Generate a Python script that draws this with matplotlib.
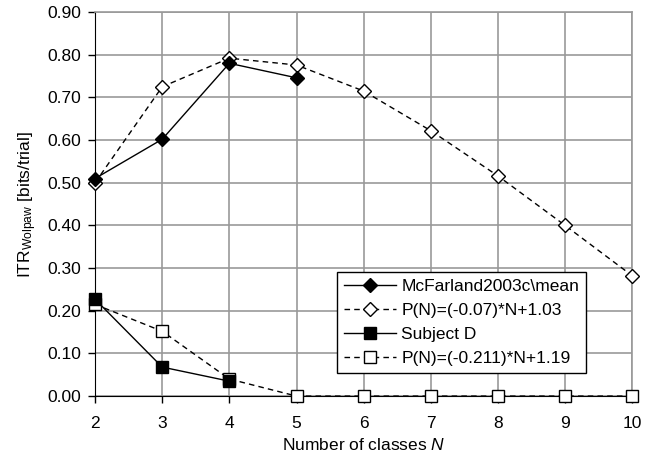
import matplotlib
matplotlib.use("Agg")
import matplotlib.pyplot as plt

plt.rcParams['font.family'] = ['Liberation Sans', 'DejaVu Sans']
plt.rcParams['mathtext.fontset'] = 'custom'
plt.rcParams['mathtext.rm'] = 'Liberation Sans'
plt.rcParams['mathtext.it'] = 'Liberation Sans:italic'

# data
n_mean = [2, 3, 4, 5]
itr_mean = [0.51, 0.602, 0.78, 0.746]
n_fit1 = [2, 3, 4, 5, 6, 7, 8, 9, 10]
itr_fit1 = [0.50, 0.725, 0.792, 0.776, 0.715, 0.622, 0.516, 0.400, 0.282]
n_subj = [2, 3, 4]
itr_subj = [0.227, 0.068, 0.035]
n_fit2 = [2, 3, 4, 5, 6, 7, 8, 9, 10]
itr_fit2 = [0.215, 0.152, 0.04, 0.0, 0.0, 0.0, 0.0, 0.0, 0.0]

labels = ['McFarland2003c\\mean', 'P(N)=(-0.07)*N+1.03',
          'Subject D', 'P(N)=(-0.211)*N+1.19']

fig = plt.figure(figsize=(6.6, 4.66), dpi=100)
ax = fig.add_axes([0.144, 0.150, 0.814, 0.824])

dash = (0, (4, 3))
ax.plot(n_mean, itr_mean, color='black', lw=1.0, marker='D', ms=7,
        mfc='black', mec='black', label=labels[0], zorder=4, clip_on=False)
ax.plot(n_fit1, itr_fit1, color='black', lw=1.0, ls=dash, marker='D', ms=7,
        mfc='white', mec='black', label=labels[1], zorder=3, clip_on=False)
ax.plot(n_subj, itr_subj, color='black', lw=1.0, marker='s', ms=8.5,
        mfc='black', mec='black', label=labels[2], zorder=4, clip_on=False)
ax.plot(n_fit2, itr_fit2, color='black', lw=1.0, ls=dash, marker='s', ms=8,
        mfc='white', mec='black', label=labels[3], zorder=3, clip_on=False)

ax.set_xlim(2, 10)
ax.set_ylim(0, 0.9)
ax.set_xticks(range(2, 11))
ax.set_yticks([i / 10 for i in range(10)])
ax.set_yticklabels([f'{i / 10:.2f}' for i in range(10)])
ax.tick_params(labelsize=12.5, direction='out', length=5, width=1, colors='black')
ax.tick_params(axis='x', pad=9)
ax.tick_params(axis='y', pad=5)
ax.grid(True, color='#999999', lw=1.2)
ax.set_axisbelow(True)
for s in ['top', 'right']:
    ax.spines[s].set_color('#999999')
    ax.spines[s].set_linewidth(1.2)
for s in ['left', 'bottom']:
    ax.spines[s].set_color('black')

ax.set_xlabel('Number of classes $\\mathit{N}$', fontsize=12.5, labelpad=5)
ax.set_ylabel('ITR$_{\\mathrm{Wolpaw}}$ [bits/trial]', fontsize=12.5, labelpad=6)

leg = ax.legend(loc='upper left', bbox_to_anchor=(0.4507, 0.3229), fontsize=12.5,
                frameon=True, fancybox=False, edgecolor='black', framealpha=1,
                handlelength=3, borderpad=0.4, labelspacing=0.5, handletextpad=0.3,
                borderaxespad=0)
leg.get_frame().set_linewidth(1.0)

fig.savefig('out.png', dpi=100)
